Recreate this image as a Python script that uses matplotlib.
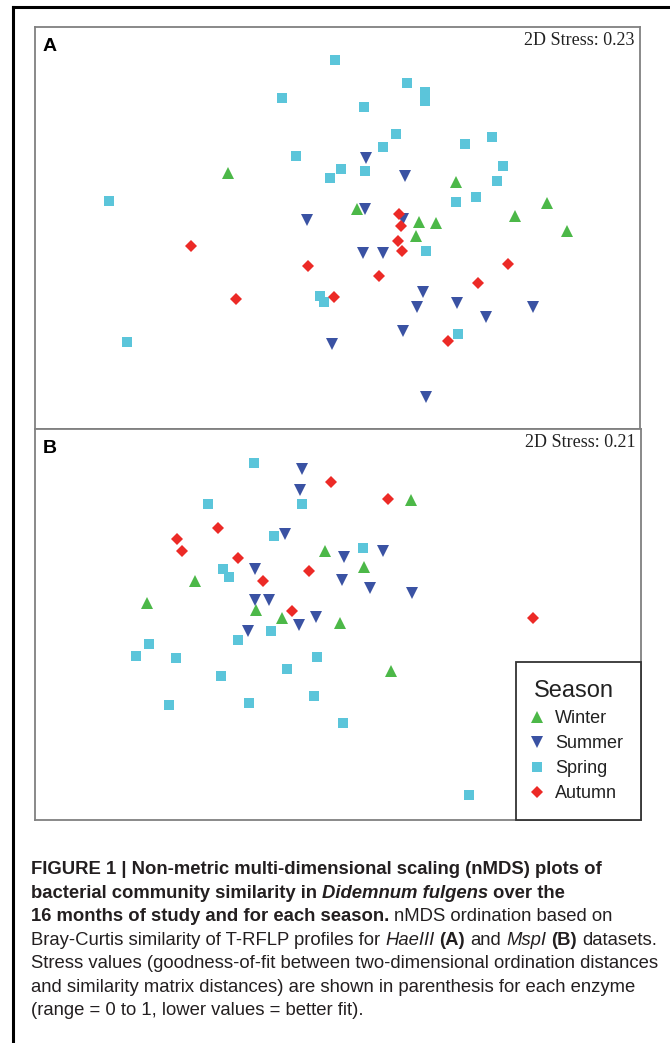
import matplotlib
matplotlib.use("Agg")
import matplotlib.pyplot as plt
from matplotlib.lines import Line2D

# nMDS coordinates (arbitrary units)
seasons = ["Winter", "Summer", "Spring", "Autumn"]
colors = {"Winter": "#4cb848", "Summer": "#3a52a3", "Spring": "#5bc5da", "Autumn": "#ec2a26"}
markers = {"Winter": ("^", 8.8), "Summer": ("v", 8.8), "Spring": ("s", 7.2), "Autumn": ("D", 5.9)}

# panel A - HaeIII
a_winter_x = [-1.09, 1.19, 2.10, 0.20, 1.78, 0.82, 0.99, 2.30, 0.79]
a_winter_y = [0.55, 0.46, 0.25, 0.19, 0.12, 0.06, 0.05, -0.03, -0.08]
a_summer_x = [0.29, 0.68, 0.28, -0.30, 0.66, 0.26, 0.46, 0.86, 0.80, 1.20, 1.96, 1.49, 0.66, -0.05, 0.89]
a_summer_y = [0.70, 0.52, 0.19, 0.08, 0.09, -0.25, -0.25, -0.64, -0.79, -0.75, -0.79, -0.89, -1.03, -1.16, -1.69]
a_spring_x = [-0.02, 0.70, 0.88, 0.88, -0.55, 0.27, -0.41, 0.59, 0.46, 1.28, 1.55, 0.04,
              0.28, -0.07, 1.66, 1.60, 1.39, 1.19, -2.28, 0.89, -0.17, -0.13, 1.21, -2.10]
a_spring_y = [1.68, 1.45, 1.36, 1.27, 1.30, 1.21, 0.72, 0.94, 0.81, 0.84, 0.91, 0.59,
              0.57, 0.50, 0.62, 0.47, 0.31, 0.26, 0.27, -0.23, -0.68, -0.74, -1.06, -1.14]
a_autumn_x = [0.62, 0.64, 0.61, 0.65, -1.46, -0.29, 0.42, -1.01, -0.03, 1.71, 1.41, 1.11]
a_autumn_y = [0.14, 0.02, -0.13, -0.23, -0.18, -0.38, -0.48, -0.71, -0.69, -0.36, -0.55, -1.13]

# panel B - MspI
b_winter_x = [-0.13, 0.26, -1.43, -1.91, -0.82, -0.56, 0.02, 0.53, 0.73]
b_winter_y = [0.73, 0.57, 0.43, 0.21, 0.14, 0.06, 0.01, -0.47, 1.24]
b_summer_x = [-0.36, -0.38, -0.53, 0.06, 0.45, -0.83, 0.04, 0.32, 0.74, -0.83, -0.69, -0.22, -0.39, -0.90]
b_summer_y = [1.55, 1.34, 0.90, 0.67, 0.73, 0.55, 0.44, 0.36, 0.31, 0.24, 0.24, 0.07, -0.01, -0.07]
b_spring_x = [-0.84, -1.30, -0.36, -0.64, 0.25, -1.15, -1.09, -0.67, -1.00, -1.89,
              -2.02, -1.62, -0.21, -0.51, -1.17, -0.24, -1.69, -0.89, 0.05, 1.31]
b_spring_y = [1.61, 1.20, 1.20, 0.88, 0.76, 0.55, 0.47, -0.07, -0.16, -0.20,
              -0.32, -0.34, -0.33, -0.45, -0.52, -0.72, -0.81, -0.79, -0.99, -1.71]
b_autumn_x = [-0.07, 0.50, -1.20, -1.61, -1.56, -1.00, -0.29, -0.75, -0.46, 1.95]
b_autumn_y = [1.42, 1.25, 0.96, 0.85, 0.73, 0.66, 0.53, 0.43, 0.13, 0.06]

panel_a = {"Winter": (a_winter_x, a_winter_y), "Summer": (a_summer_x, a_summer_y),
           "Spring": (a_spring_x, a_spring_y), "Autumn": (a_autumn_x, a_autumn_y)}
panel_b = {"Winter": (b_winter_x, b_winter_y), "Summer": (b_summer_x, b_summer_y),
           "Spring": (b_spring_x, b_spring_y), "Autumn": (b_autumn_x, b_autumn_y)}
stress_a = 0.23
stress_b = 0.21

W, H = 670, 1043
fig = plt.figure(figsize=(W / 100, H / 100), dpi=100)
renderer = fig.canvas.get_renderer()


def px_box(l, t, r, b):
    return [l / W, 1 - b / H, (r - l) / W, (b - t) / H]


def draw_panel(ax, data, letter, stress, xlim, ylim):
    for s in seasons:
        m, ms = markers[s]
        x, y = data[s]
        ax.plot(x, y, linestyle="none", marker=m, markersize=ms,
                color=colors[s], markeredgewidth=0)
    ax.set_xlim(*xlim)
    ax.set_ylim(*ylim)
    ax.set_xticks([])
    ax.set_yticks([])
    for sp in ax.spines.values():
        sp.set_color("#808080")
        sp.set_linewidth(1.3)
    ax.text(0.013, 0.972, letter, transform=ax.transAxes, ha="left", va="top",
            fontsize=14, fontweight="bold", family="Liberation Sans")
    ax.text(0.991, 0.966, "2D Stress: %.2f" % stress, transform=ax.transAxes,
            ha="right", va="center", fontsize=13, family="Liberation Serif",
            color="#222222")


ax_a = fig.add_axes(px_box(35, 27, 640, 429))
ax_b = fig.add_axes(px_box(35, 429, 641, 820))
draw_panel(ax_a, panel_a, "A", stress_a, (-3.02, 3.03), (-2.01, 2.01))
draw_panel(ax_b, panel_b, "B", stress_b, (-3.03, 3.03), (-1.96, 1.95))

handles = [Line2D([], [], linestyle="none", marker=markers[s][0], markersize=markers[s][1],
                  color=colors[s], markeredgewidth=0) for s in seasons]
leg = ax_b.legend(handles, seasons, title="Season", loc="lower right",
                  bbox_to_anchor=(1.0, 0.0), borderaxespad=0, frameon=True,
                  fancybox=False, framealpha=1, edgecolor="#333333",
                  prop={"family": "Liberation Sans", "size": 13},
                  title_fontproperties={"family": "Liberation Sans", "size": 17},
                  handlelength=0.35, handletextpad=0.82, labelspacing=0.44,
                  borderpad=1.0, alignment="left")
leg.get_frame().set_linewidth(1.3)
for t in leg.get_texts():
    t.set_color("#222222")
leg.get_title().set_color("#222222")

# outer frame of the figure box
fig.add_artist(Line2D([13 / W, 1.0], [1 - 7 / H, 1 - 7 / H], color="black", linewidth=2.2,
                      transform=fig.transFigure))
fig.add_artist(Line2D([13 / W, 13 / W], [1 - 7 / H, 0.0], color="black", linewidth=2.2,
                      transform=fig.transFigure))

# caption
cap_size = 13.3
cap_color = "#231f20"
caption = [
    [("FIGURE 1 | Non-metric multi-dimensional scaling (nMDS) plots of", "bold", "normal")],
    [("bacterial community similarity in ", "bold", "normal"), ("Didemnum fulgens", "bold", "italic"),
     (" over the", "bold", "normal")],
    [("16 months of study and for each season.", "bold", "normal"),
     (" nMDS ordination based on", "normal", "normal")],
    [("Bray-Curtis similarity of T-RFLP profiles for ", "normal", "normal"), ("HaeIII", "normal", "italic"),
     (" ", "normal", "normal"), ("(A)", "bold", "normal"), (" and ", "normal", "normal"),
     ("MspI", "normal", "italic"), (" ", "normal", "normal"), ("(B)", "bold", "normal"),
     (" datasets.", "normal", "normal")],
    [("Stress values (goodness-of-fit between two-dimensional ordination distances", "normal", "normal")],
    [("and similarity matrix distances) are shown in parenthesis for each enzyme", "normal", "normal")],
    [("(range = 0 to 1, lower values = better fit).", "normal", "normal")],
]


def text_width(s, weight, style):
    t = fig.text(0, 0, s, fontsize=cap_size, fontweight=weight, fontstyle=style,
                 family="Liberation Sans")
    w = t.get_window_extent(renderer).width
    t.remove()
    return w


for i, line in enumerate(caption):
    x = 31.0
    y = 870 + 23.4 * i
    for txt, weight, style in line:
        sp = text_width("a a", weight, style) - text_width("aa", weight, style)
        core = txt.strip(" ")
        if not core:
            x += len(txt) * sp
            continue
        lead = len(txt) - len(txt.lstrip(" "))
        trail = len(txt) - len(txt.rstrip(" "))
        x += lead * sp
        fig.text(x / W, 1 - y / H, core, fontsize=cap_size, fontweight=weight,
                 fontstyle=style, family="Liberation Sans", color=cap_color,
                 ha="left", va="center")
        x += text_width(core, weight, style) + trail * sp

fig.savefig("out.png", dpi=100)
